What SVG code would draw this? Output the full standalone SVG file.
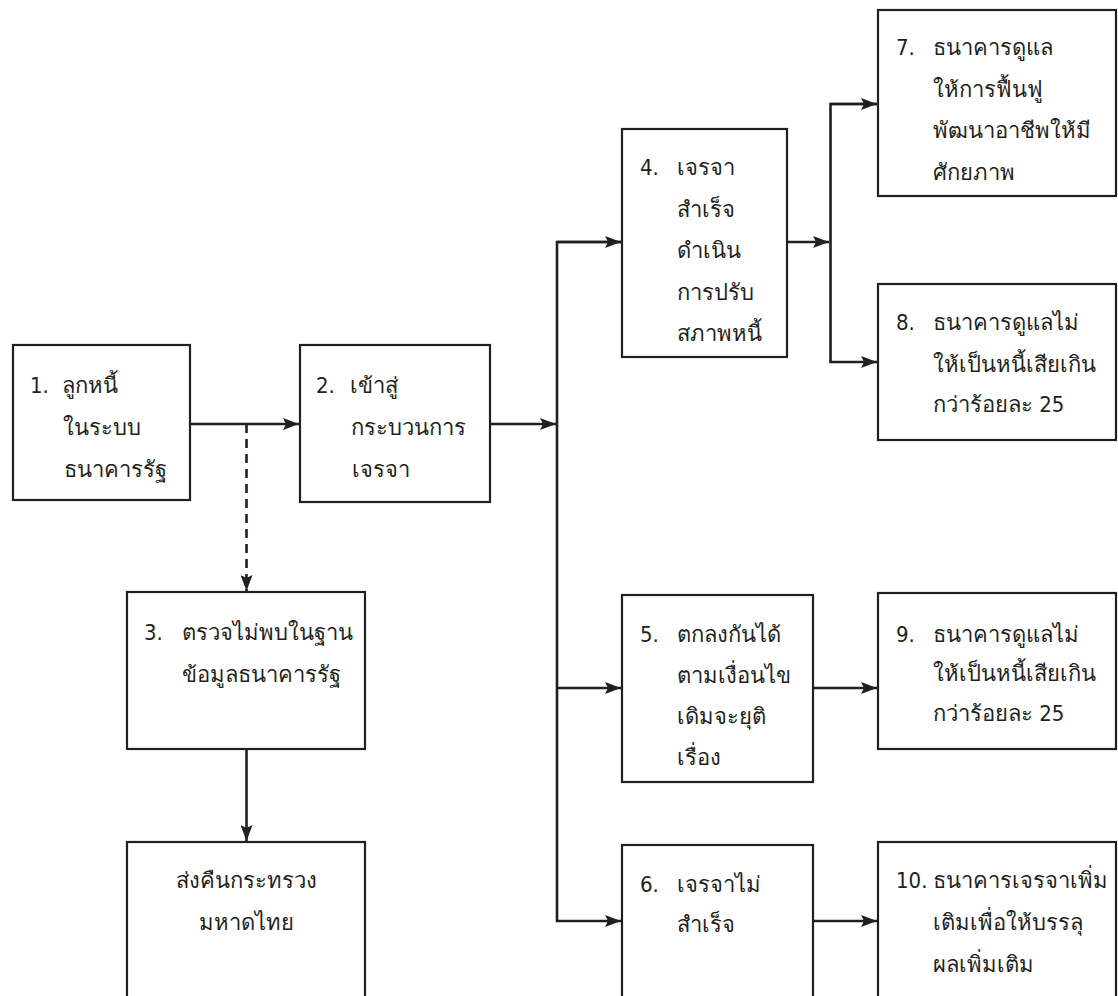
<svg xmlns="http://www.w3.org/2000/svg" width="1118" height="996" viewBox="0 0 1118 996">
<defs>
<style>
.box{fill:#fff;stroke:#231f20;stroke-width:2.2}
.t{font-family:"DejaVu Sans Condensed","DejaVu Sans","Noto Sans",sans-serif;font-size:22px;fill:#231f20}
.c{text-anchor:middle}
.ln{fill:none;stroke:#231f20;stroke-width:2.6}
.dash{stroke-dasharray:9 6}
</style>
<marker id="ah" viewBox="0 0 16 12" refX="16" refY="6" markerWidth="16" markerHeight="12" markerUnits="userSpaceOnUse" orient="auto">
<path d="M0,0 L16,6 L0,12 L3,6 Z" fill="#231f20"/>
</marker>
</defs>
<rect width="1118" height="996" fill="#fff"/>
<g id="connectors">
<line class="ln" x1="190" y1="424" x2="299" y2="424" marker-end="url(#ah)"/>
<line class="ln dash" x1="246.5" y1="424" x2="246.5" y2="591" marker-end="url(#ah)"/>
<line class="ln" x1="490" y1="424" x2="556" y2="424" marker-end="url(#ah)"/>
<polyline class="ln" points="621,242 557,242 557,921 621,921" marker-end="url(#ah)"/>
<line class="ln" x1="557" y1="242" x2="621" y2="242" marker-end="url(#ah)"/>
<line class="ln" x1="557" y1="688" x2="621" y2="688" marker-end="url(#ah)"/>
<line class="ln" x1="787" y1="242" x2="829" y2="242" marker-end="url(#ah)"/>
<polyline class="ln" points="877,104 830.5,104 830.5,362 877,362" marker-end="url(#ah)"/>
<line class="ln" x1="830.5" y1="104" x2="877" y2="104" marker-end="url(#ah)"/>
<line class="ln" x1="813" y1="688" x2="877" y2="688" marker-end="url(#ah)"/>
<line class="ln" x1="813" y1="921" x2="877" y2="921" marker-end="url(#ah)"/>
<line class="ln" x1="246.5" y1="749" x2="246.5" y2="841" marker-end="url(#ah)"/>
</g>
<g id="n1"><rect class="box" x="13" y="345" width="177" height="155"/>
<text class="t" x="30" y="393">1.</text>
<text class="t" x="62" y="393">ลูกหนี้</text>
<text class="t" x="63" y="435">ในระบบ</text>
<text class="t" x="64" y="477">ธนาคารรัฐ</text></g>
<g id="n2"><rect class="box" x="300" y="345" width="190" height="157"/>
<text class="t" x="316" y="393">2.</text>
<text class="t" x="350" y="393">เข้าสู่</text>
<text class="t" x="351" y="435">กระบวนการ</text>
<text class="t" x="352" y="477">เจรจา</text></g>
<g id="n3"><rect class="box" x="127" y="592" width="238" height="157"/>
<text class="t" x="144" y="640">3.</text>
<text class="t" x="182" y="640">ตรวจไม่พบในฐาน</text>
<text class="t" x="182" y="682">ข้อมูลธนาคารรัฐ</text></g>
<g id="n3b"><rect class="box" x="127" y="842" width="238" height="162"/>
<text class="t c" x="246" y="888">ส่งคืนกระทรวง</text>
<text class="t c" x="246" y="930">มหาดไทย</text></g>
<g id="n4"><rect class="box" x="622" y="129" width="165" height="228"/>
<text class="t" x="640" y="175">4.</text>
<text class="t" x="677" y="175">เจรจา</text>
<text class="t" x="677" y="217">สำเร็จ</text>
<text class="t" x="677" y="258">ดำเนิน</text>
<text class="t" x="677" y="300">การปรับ</text>
<text class="t" x="677" y="341">สภาพหนี้</text></g>
<g id="n5"><rect class="box" x="622" y="595" width="191" height="187"/>
<text class="t" x="640" y="642">5.</text>
<text class="t" x="677" y="642">ตกลงกันได้</text>
<text class="t" x="677" y="683">ตามเงื่อนไข</text>
<text class="t" x="677" y="724">เดิมจะยุติ</text>
<text class="t" x="677" y="765">เรื่อง</text></g>
<g id="n6"><rect class="box" x="622" y="845" width="191" height="160"/>
<text class="t" x="640" y="892">6.</text>
<text class="t" x="677" y="892">เจรจาไม่</text>
<text class="t" x="677" y="932">สำเร็จ</text></g>
<g id="n7"><rect class="box" x="878" y="10" width="238" height="186"/>
<text class="t" x="896" y="55">7.</text>
<text class="t" x="933" y="55">ธนาคารดูแล</text>
<text class="t" x="933" y="97">ให้การฟื้นฟู</text>
<text class="t" x="933" y="138">พัฒนาอาชีพให้มี</text>
<text class="t" x="933" y="180">ศักยภาพ</text></g>
<g id="n8"><rect class="box" x="878" y="284" width="238" height="156"/>
<text class="t" x="896" y="330">8.</text>
<text class="t" x="933" y="330">ธนาคารดูแลไม่</text>
<text class="t" x="933" y="372">ให้เป็นหนี้เสียเกิน</text>
<text class="t" x="933" y="412">กว่าร้อยละ 25</text></g>
<g id="n9"><rect class="box" x="878" y="593" width="238" height="156"/>
<text class="t" x="896" y="642">9.</text>
<text class="t" x="933" y="642">ธนาคารดูแลไม่</text>
<text class="t" x="933" y="681">ให้เป็นหนี้เสียเกิน</text>
<text class="t" x="933" y="721">กว่าร้อยละ 25</text></g>
<g id="n10"><rect class="box" x="878" y="842" width="238" height="162"/>
<text class="t" x="896" y="888">10.</text>
<text class="t" x="933" y="888">ธนาคารเจรจาเพิ่ม</text>
<text class="t" x="933" y="930">เติมเพื่อให้บรรลุ</text>
<text class="t" x="933" y="972">ผลเพิ่มเติม</text></g>
</svg>
